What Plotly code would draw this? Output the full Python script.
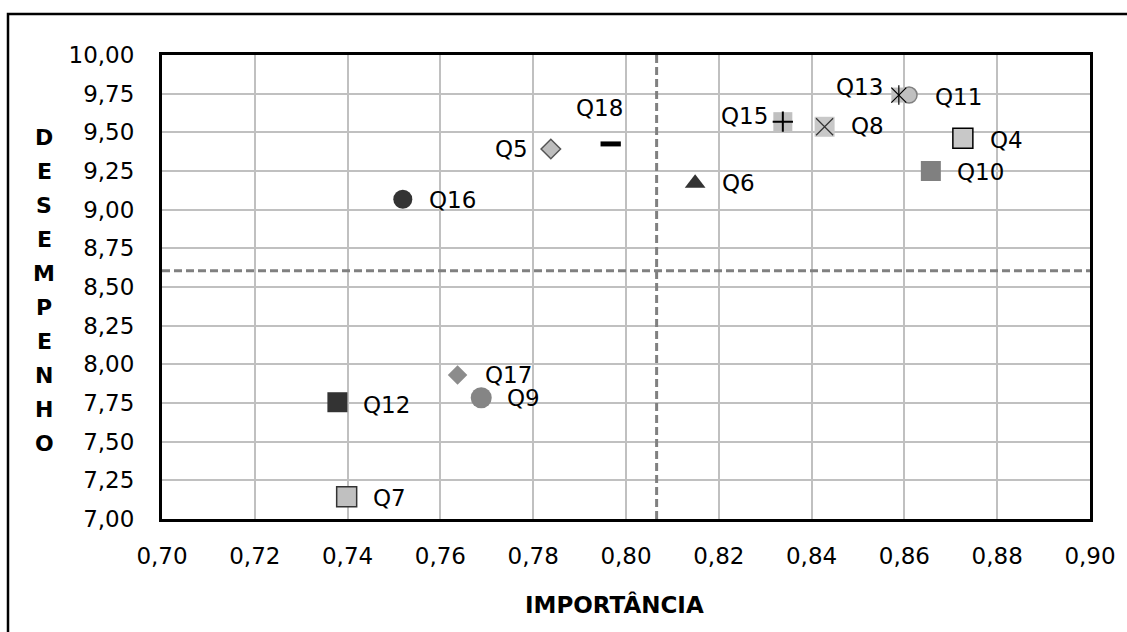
import plotly.graph_objects as go

# ---------------- data ----------------
questions = ["Q16", "Q12", "Q7", "Q17", "Q9", "Q5", "Q18", "Q6",
             "Q15", "Q8", "Q11", "Q13", "Q4", "Q10"]
importancia = [0.7519, 0.7378, 0.7398, 0.7637, 0.7688, 0.7838, 0.7967, 0.8149,
               0.8338, 0.8428, 0.8610, 0.8588, 0.8726, 0.8657]
desempenho = [9.067, 7.755, 7.144, 7.931, 7.784, 9.392, 9.425, 9.170,
              9.569, 9.536, 9.741, 9.741, 9.461, 9.250]

importancia_ref = 0.8066
desempenho_ref = 8.605

x_tick_values = [0.70, 0.72, 0.74, 0.76, 0.78, 0.80, 0.82, 0.84, 0.86, 0.88, 0.90]
x_tick_labels = ["0,70", "0,72", "0,74", "0,76", "0,78", "0,80", "0,82", "0,84", "0,86", "0,88", "0,90"]
y_tick_values = [7.00, 7.25, 7.50, 7.75, 8.00, 8.25, 8.50, 8.75, 9.00, 9.25, 9.50, 9.75, 10.00]
y_tick_labels = ["7,00", "7,25", "7,50", "7,75", "8,00", "8,25", "8,50", "8,75", "9,00", "9,25", "9,50", "9,75", "10,00"]

x_title = "IMPORTÂNCIA"
y_title = "DESEMPENHO"

# ---------------- styles ----------------
LIGHT = "#c0c0c0"
MID = "#858585"
DARK = "#333333"

# each entry: list of marker layers (symbol, size, fill, line color, line width)
marker_styles = {
    "Q16": [("circle", 19, DARK, DARK, 0)],
    "Q12": [("square", 20, DARK, DARK, 0)],
    "Q7": [("square", 20, LIGHT, "#333333", 1.5)],
    "Q17": [("diamond", 15, "#8c8c8c", "#8c8c8c", 0)],
    "Q9": [("circle", 21, MID, MID, 0)],
    "Q5": [("diamond", 15, "#bdbdbd", "#555555", 1.5)],
    "Q18": [("line-ew", 14.5, "#000000", "#000000", 5)],
    "Q6": [("triangle-up", 18, DARK, DARK, 0)],
    "Q15": [("square", 19, LIGHT, LIGHT, 0), ("cross-thin", 14.5, "#000000", "#000000", 2)],
    "Q8": [("square", 20, "#c8c8c8", "#c8c8c8", 0), ("x-thin", 17, "#333333", "#333333", 1.2)],
    "Q11": [("circle", 16, LIGHT, "#808080", 1.5)],
    "Q13": [("square", 15, LIGHT, LIGHT, 0), ("x-thin", 15, "#000000", "#000000", 1.2),
            ("line-ns", 14, "#000000", "#000000", 1.2)],
    "Q4": [("square", 20, "#c8c8c8", "#000000", 1.5)],
    "Q10": [("square", 20, "#808080", "#808080", 0)],
}

# label placement: (side, dx px, dy px)
label_styles = {
    "Q16": ("right", 24, -1), "Q12": ("right", 24, -3), "Q7": ("right", 24, -1),
    "Q17": ("right", 25, 0), "Q9": ("right", 24, 0), "Q5": ("left", -21, 0),
    "Q18": ("top", -11, 36), "Q6": ("right", 25, 0), "Q15": ("left", -13, 6),
    "Q8": ("right", 24, 1), "Q11": ("right", 24, -2), "Q13": ("left", -14, 8),
    "Q4": ("right", 25, -2), "Q10": ("right", 24, -1),
}

FONT = "DejaVu Sans, Arial, sans-serif"

fig = go.Figure()

# reference lines
fig.add_shape(type="line", xref="x", yref="y", x0=importancia_ref, x1=importancia_ref,
              y0=7.0, y1=10.0, line=dict(color="#808080", width=3, dash="8px,4px"), layer="between")
fig.add_shape(type="line", xref="x", yref="y", x0=0.70, x1=0.90,
              y0=desempenho_ref, y1=desempenho_ref,
              line=dict(color="#808080", width=3, dash="8px,4px"), layer="between")

for q, xv, yv in zip(questions, importancia, desempenho):
    for sym, size, fill, lc, lw in marker_styles[q]:
        fig.add_trace(go.Scatter(
            x=[xv], y=[yv], mode="markers", hoverinfo="skip",
            marker=dict(symbol=sym, size=size, color=fill,
                        line=dict(color=lc, width=lw)),
            showlegend=False,
        ))
    side, dx, dy = label_styles[q]
    if side == "right":
        xa, ya = "left", "middle"
    elif side == "left":
        xa, ya = "right", "middle"
    else:
        xa, ya = "center", "middle"
    fig.add_annotation(x=xv, y=yv, xref="x", yref="y", text=q, showarrow=False,
                       xanchor=xa, yanchor=ya, xshift=dx, yshift=dy,
                       font=dict(family=FONT, size=23, color="#000000"))

# axis titles
fig.add_annotation(x=0.488, y=-0.185, xref="paper", yref="paper", text="<b>%s</b>" % x_title,
                   showarrow=False, xanchor="center", yanchor="middle",
                   font=dict(family=FONT, size=23, color="#000000"))
L, T, W, H = 162, 55, 928, 464
for i, ch in enumerate(y_title):
    py = 137 + i * 34
    fig.add_annotation(x=(44 - L) / W, y=(T + H - py) / H, xref="paper", yref="paper",
                       text="<b>%s</b>" % ch, showarrow=False, xanchor="center", yanchor="middle",
                       font=dict(family=FONT, size=22, color="#000000"))

# outer frame
fig.add_shape(type="rect", xref="paper", yref="paper",
              x0=(8 - L) / W, x1=(1145 - L) / W, y0=(T + H - 660) / H, y1=(T + H - 14) / H,
              line=dict(color="#000000", width=2.5), fillcolor="rgba(0,0,0,0)", layer="above")

fig.update_xaxes(range=[0.70, 0.90], tickvals=x_tick_values, ticktext=x_tick_labels,
                 showgrid=True, gridcolor="#c0c0c0", gridwidth=2,
                 showline=True, linecolor="#000000", linewidth=3, mirror=True,
                 zeroline=False, ticks="", ticklabelstandoff=14, automargin=False,
                 tickfont=dict(family=FONT, size=23, color="#000000"))
fig.update_yaxes(range=[7.0, 10.0], tickvals=y_tick_values, ticktext=y_tick_labels,
                 showgrid=True, gridcolor="#c0c0c0", gridwidth=2,
                 showline=True, linecolor="#000000", linewidth=3, mirror=True,
                 zeroline=False, ticks="", ticklabelstandoff=20, automargin=False,
                 tickfont=dict(family=FONT, size=23, color="#000000"))

fig.update_layout(width=1127, height=632, margin=dict(l=L, r=1127 - L - W, t=T, b=632 - T - H),
                  paper_bgcolor="#ffffff", plot_bgcolor="#ffffff", showlegend=False,
                  font=dict(family=FONT, color="#000000"))

fig.write_html("out.html", config={"displayModeBar": False},
               post_script="document.body.style.margin='0';document.body.style.overflow='hidden';")
